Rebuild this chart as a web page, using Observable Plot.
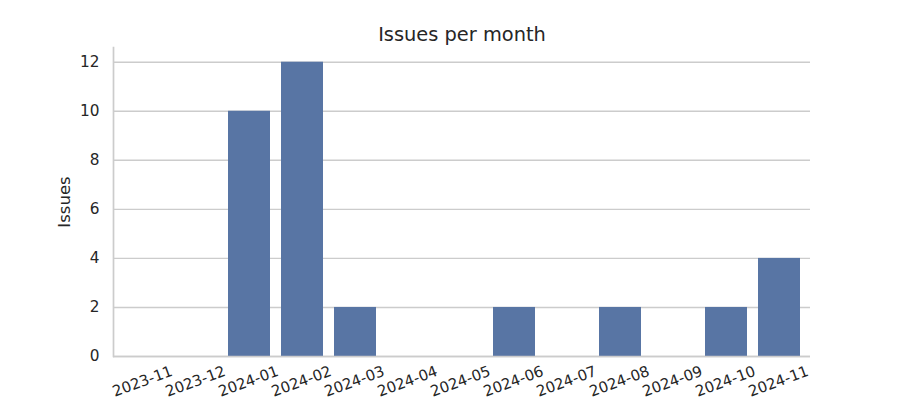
<!DOCTYPE html>
<html><head><meta charset="utf-8">
<script src="https://cdn.jsdelivr.net/npm/d3@7"></script>
<script src="https://cdn.jsdelivr.net/npm/@observablehq/plot@0.6"></script>
<style>body{margin:0;background:#fff} svg{display:block}</style>
</head><body><div id="chart"></div>
<script>
const months = ["2023-11","2023-12","2024-01","2024-02","2024-03","2024-04","2024-05","2024-06","2024-07","2024-08","2024-09","2024-10","2024-11"];
const issues = [0,0,10,12,2,0,0,2,0,2,0,2,4];
const yTicks = [0,2,4,6,8,10,12];
const title = "Issues per month";
const yLabel = "Issues";
const data = months.map((m,i)=>({month:m, issues:issues[i]}));
const chart = Plot.plot({
  width:900, height:400, marginLeft:113, marginRight:90, marginTop:47, marginBottom:44,
  style:{fontFamily:"DejaVu Sans", fontSize:"15px", color:"#262626", background:"white"},
  x:{domain:months, paddingInner:0.2, paddingOuter:0.1, axis:null},
  y:{domain:[0,12.6], axis:null},
  marks:[
    Plot.gridY(yTicks, {stroke:"#cccccc", strokeOpacity:1, strokeWidth:1.4}),
    Plot.frame({anchor:"left", stroke:"#cccccc", strokeWidth:1.7}),
    Plot.barY(data, {x:"month", y:"issues", fill:"#5875a4"}),
    Plot.ruleY([0], {stroke:"#cccccc", strokeWidth:1.7}),
    Plot.axisY(yTicks, {tickSize:0, tickPadding:14, fontSize:15.3, label:null, fill:"#262626"}),
    Plot.text(months, {x:d=>d, frameAnchor:"bottom", dy:25, dx:-1, rotate:-20, fontSize:15, fill:"#262626", textAnchor:"middle", lineAnchor:"middle"}),
    Plot.text([yLabel], {frameAnchor:"left", dx:-49, rotate:-90, fontSize:16.5, fill:"#262626", textAnchor:"middle", lineAnchor:"middle"}),
    Plot.text([title], {frameAnchor:"top", dy:-13, fontSize:19.4, fill:"#262626", textAnchor:"middle", lineAnchor:"middle"})
  ]
});
document.getElementById("chart").appendChild(chart);
</script>
</body></html>
